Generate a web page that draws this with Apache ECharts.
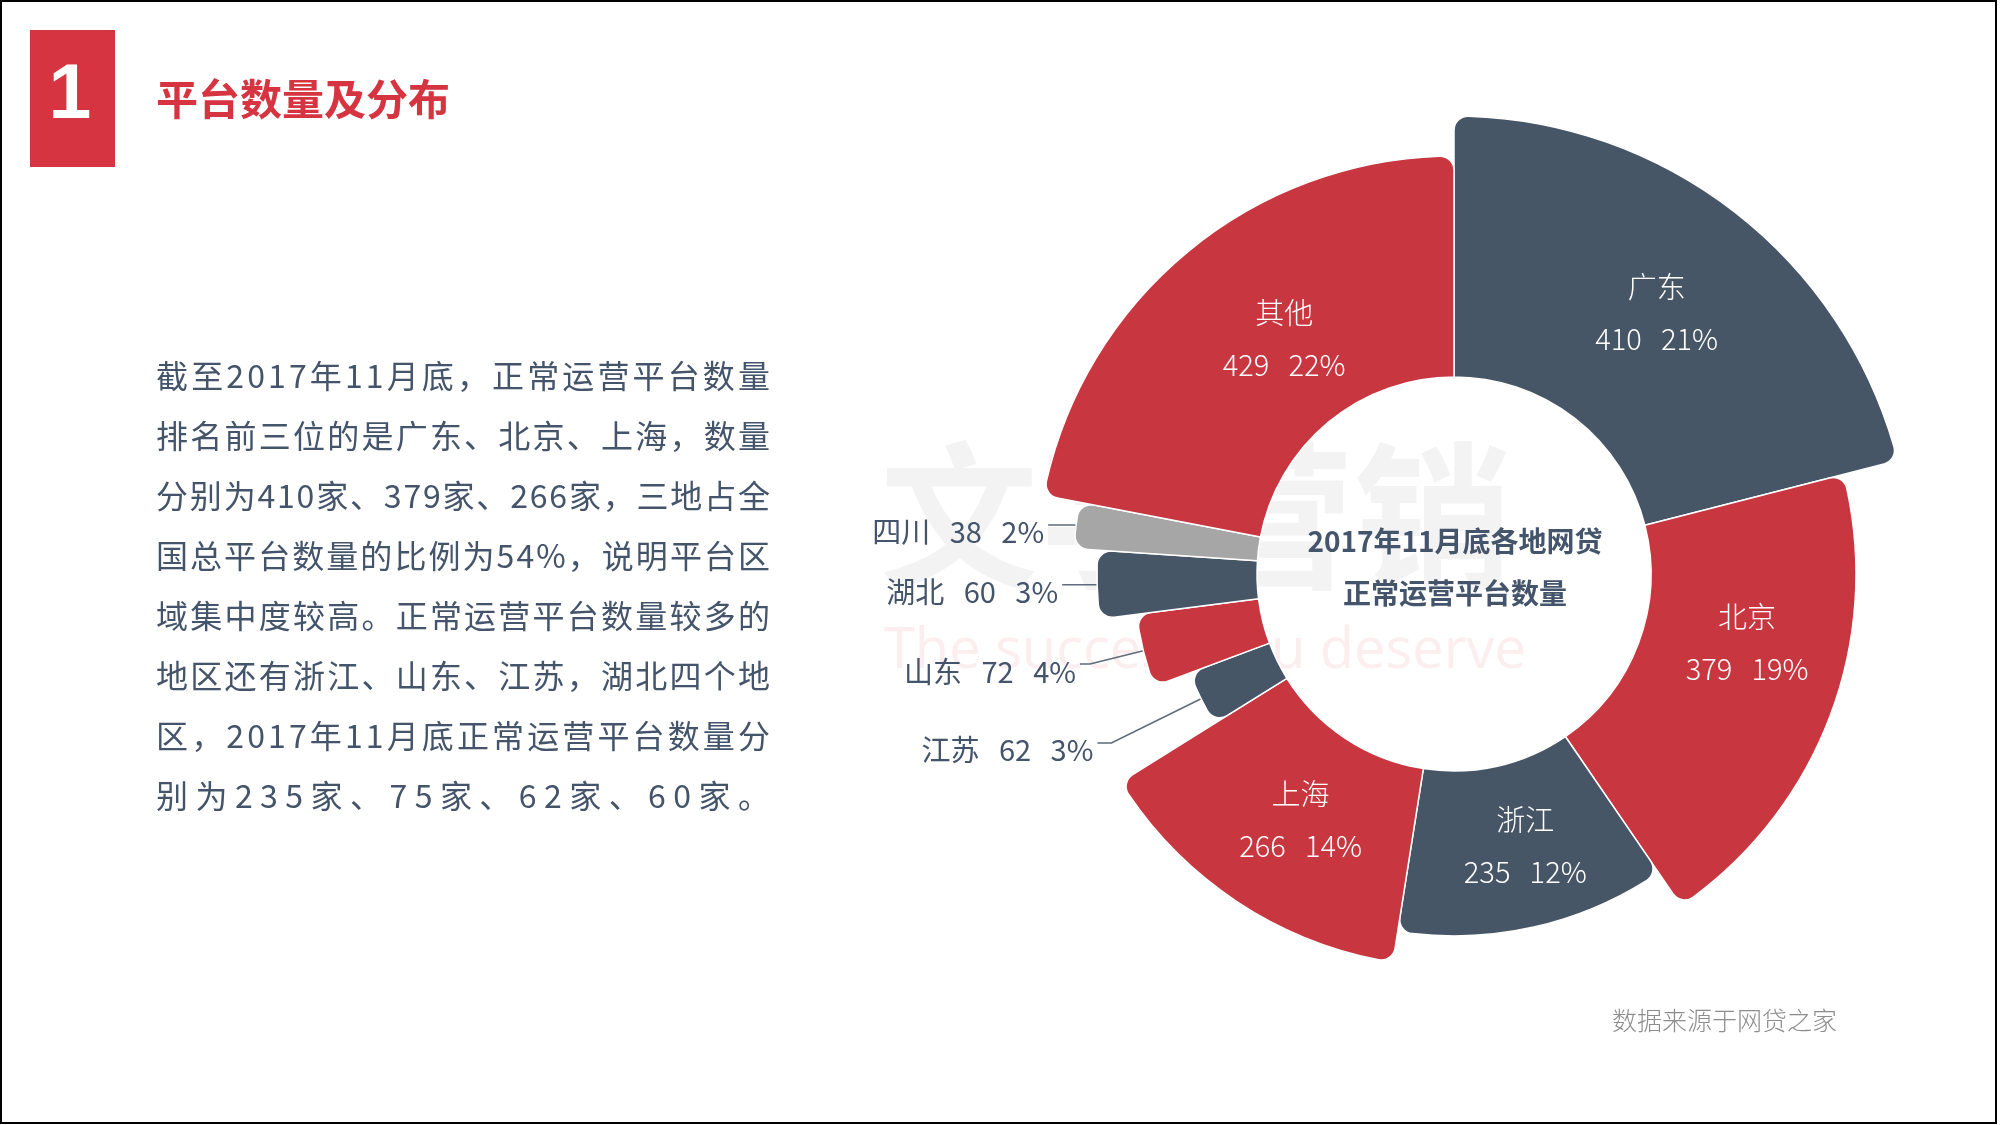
<!DOCTYPE html>
<html>
<head>
<meta charset="utf-8">
<script src="https://cdn.jsdelivr.net/npm/echarts@6/dist/echarts.min.js"></script>
<style>
html,body{margin:0;padding:0;background:#ffffff;}
#chart{width:2000px;height:1125px;}
</style>
</head>
<body>
<div id="chart"></div>
<script>
// ---------- data ----------
const categories = ['广东', '北京', '浙江', '上海', '江苏', '山东', '湖北', '四川', '其他'];
const platformCounts = [410, 379, 235, 266, 62, 72, 60, 38, 429];

const titleText = '平台数量及分布';
const sectionNumber = '1';
const centerTitleLines = ['2017年11月底各地网贷', '正常运营平台数量'];
const sourceText = '数据来源于网贷之家';
const paragraphLines = [
  '截至2017年11月底，正常运营平台数量',
  '排名前三位的是广东、北京、上海，数量',
  '分别为410家、379家、266家，三地占全',
  '国总平台数量的比例为54%，说明平台区',
  '域集中度较高。正常运营平台数量较多的',
  '地区还有浙江、山东、江苏，湖北四个地',
  '区，2017年11月底正常运营平台数量分',
  '别为235家、75家、62家、60家。'
];
const watermarkTexts = ['文字营销', 'The success you deserve'];

// ---------- styling (not data) ----------
const RED = '#c8363f';
const SLATE = '#475666';
const GREY = '#a6a6a6';
const TEXT = '#44546a';
const sliceColors = [SLATE, RED, SLATE, RED, SLATE, RED, SLATE, GREY, RED];
const sliceOuterRadius = [458, 402, 362, 393, 282, 320, 357, 381, 418];
const labelInside = [true, true, true, true, false, false, false, false, true];
const labelShiftX = [0, 10, 9, 11, 0, 0, 0, 0, 28];
const labelShiftY = [0, -38, -4, -3, 0, 0, 0, 0, 4];
const leaderLen = [0, 0, 0, 0, 100, 55, 4, 3, 0];
const leaderLen2 = [0, 0, 0, 0, 14, 10, 31, 25, 0];
const pieCenter = [1454, 574];
const innerRadius = 197;
const CJK = '"Noto Sans CJK SC", "Noto Sans", sans-serif';

function labelFor(i) {
  if (labelInside[i]) {
    return {
      show: true, position: 'inside',
      formatter: '{b}\n{c}   {d}%',
      color: '#ffffff', fontSize: 29, lineHeight: 52,
      fontFamily: CJK, fontWeight: 300
    };
  }
  return {
    show: true, position: 'outside',
    formatter: '\n{b}   {c}   {d}%',
    color: TEXT, fontSize: 29, lineHeight: 15, fontFamily: CJK,
    distanceToLabelLine: 4
  };
}

const series = categories.map((name, i) => {
  const s = {
    type: 'pie',
    name: name,
    center: pieCenter,
    radius: [innerRadius, sliceOuterRadius[i]],
    startAngle: 90,
    clockwise: true,
    silent: true,
    animation: false,
    percentPrecision: 0,
    avoidLabelOverlap: false,
    emphasis: { disabled: true },
    z: 2,
    data: categories.map((n, j) => {
      const own = j === i;
      return {
        name: n,
        value: platformCounts[j],
        itemStyle: own
          ? { color: sliceColors[j], borderColor: '#ffffff', borderWidth: 1.5, borderRadius: [0, 14] }
          : { color: 'rgba(0,0,0,0)', borderWidth: 0 },
        label: own ? labelFor(j) : { show: false },
        labelLine: own && !labelInside[j]
          ? { show: true, length: leaderLen[j], length2: leaderLen2[j], smooth: false,
              lineStyle: { color: '#5d6b7a', width: 1.5 } }
          : { show: false }
      };
    })
  };
  if (labelInside[i] && (labelShiftX[i] || labelShiftY[i])) {
    s.labelLayout = { dx: labelShiftX[i], dy: labelShiftY[i] };
  }
  return s;
});

// ---------- page graphics ----------
const graphics = [];

// watermark (very faint, behind chart)
graphics.push({
  type: 'text', x: 880, y: 516, z: -5, silent: true,
  style: { text: watermarkTexts[0], fontSize: 158, fontWeight: 'bold', fontFamily: CJK,
           fill: '#f3f3f3', align: 'left', verticalAlign: 'middle', textAlign: 'left', textVerticalAlign: 'middle' }
});
graphics.push({
  type: 'text', x: 884, y: 652, z: -5, silent: true,
  style: { text: watermarkTexts[1], fontSize: 56, fontFamily: '"Open Sans", sans-serif',
           fill: '#fcedee', align: 'left', verticalAlign: 'middle', textAlign: 'left', textVerticalAlign: 'middle' }
});

// frame
graphics.push({
  type: 'rect', z: 20, silent: true,
  shape: { x: 1, y: 1, width: 1995, height: 1122 },
  style: { fill: 'none', stroke: '#000000', lineWidth: 2 }
});

// section number box
graphics.push({
  type: 'rect', silent: true,
  shape: { x: 30, y: 30, width: 85, height: 137 },
  style: { fill: '#d63440' }
});
graphics.push({
  type: 'text', x: 70, y: 97, silent: true,
  style: { text: sectionNumber, fontSize: 77, fontWeight: 'bold', fontFamily: '"Liberation Sans", Arial, sans-serif',
           fill: '#ffffff', align: 'center', verticalAlign: 'middle', textAlign: 'center', textVerticalAlign: 'middle' }
});
// title
graphics.push({
  type: 'text', x: 156, y: 99, silent: true,
  style: { text: titleText, fontSize: 42, fontWeight: 'bold', fontFamily: CJK,
           fill: '#d63440', align: 'left', verticalAlign: 'middle', textAlign: 'left', textVerticalAlign: 'middle' }
});

// justified paragraph
(function () {
  const fs = 32;
  const x0 = 156, x1 = 770, y0 = 376, lh = 60;
  const ctx = document.createElement('canvas').getContext('2d');
  ctx.font = fs + 'px ' + CJK;
  paragraphLines.forEach((line, li) => {
    const chars = Array.from(line);
    const widths = chars.map(c => ctx.measureText(c).width);
    const total = widths.reduce((a, b) => a + b, 0);
    const gap = chars.length > 1 ? (x1 - x0 - total) / (chars.length - 1) : 0;
    let x = x0;
    chars.forEach((c, k) => {
      graphics.push({
        type: 'text', x: x, y: y0 + li * lh, silent: true,
        style: { text: c, fontSize: fs, fontFamily: CJK, fill: TEXT,
                 align: 'left', verticalAlign: 'middle', textAlign: 'left', textVerticalAlign: 'middle' }
      });
      x += widths[k] + gap;
    });
  });
})();

// centre caption
centerTitleLines.forEach((t, k) => {
  graphics.push({
    type: 'text', x: 1455, y: 541 + k * 52, z: 10, silent: true,
    style: { text: t, fontSize: 28, fontWeight: 'bold', fontFamily: CJK, fill: TEXT,
             align: 'center', verticalAlign: 'middle', textAlign: 'center', textVerticalAlign: 'middle' }
  });
});

// source note
graphics.push({
  type: 'text', x: 1612, y: 1020, silent: true,
  style: { text: sourceText, fontSize: 25, fontFamily: CJK, fill: '#8c8c8c', fontWeight: 300,
           align: 'left', verticalAlign: 'middle', textAlign: 'left', textVerticalAlign: 'middle' }
});

const chart = echarts.init(document.getElementById('chart'), null, { renderer: 'canvas' });
chart.setOption({
  backgroundColor: '#ffffff',
  animation: false,
  series: series,
  graphic: { elements: graphics }
});
</script>
</body>
</html>
